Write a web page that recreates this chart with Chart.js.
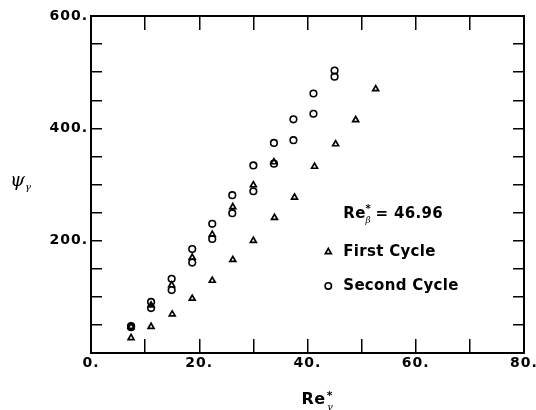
<!DOCTYPE html>
<html><head><meta charset="utf-8">
<script src="https://cdn.jsdelivr.net/npm/chart.js@4/dist/chart.umd.min.js"></script>
<style>html,body{margin:0;padding:0;background:#fff;}</style>
</head><body>
<canvas id="c" width="536" height="410"></canvas>
<script>
// ---- data ----
const firstCycleX = [7.4, 11.1, 15.0, 18.7, 22.4, 26.2, 30.0, 33.9, 37.6, 41.3, 45.2, 48.9, 52.6,
                     7.4, 11.1, 14.9, 18.7, 22.4, 26.2, 30.0, 33.8];
const firstCycleY = [27, 47, 69, 97, 129, 166, 200, 241, 277, 332, 372, 415, 470,
                     47, 85, 121, 170, 211, 260, 299, 340];
const secondCycleX = [7.4, 7.4, 11.1, 11.1, 14.9, 14.9, 18.7, 18.7, 22.4, 22.4, 26.1, 26.1,
                      30.0, 30.0, 33.8, 33.8, 37.4, 37.4, 41.1, 41.1, 45.0, 45.0];
const secondCycleY = [48, 46, 91, 80, 132, 112, 185, 161, 230, 203, 281, 249,
                      334, 288, 374, 337, 416, 379, 462, 426, 503, 492];
const xTickValues = [0, 20, 40, 60, 80];
const xTickLabels = ['0.', '20.', '40.', '60.', '80.'];
const yTickValues = [200, 400, 600];
const yTickLabels = ['200.', '400.', '600.'];
const seriesNames = ['First Cycle', 'Second Cycle'];
const reBetaValue = '46.96';

const toPts = (xs, ys) => xs.map((x, i) => ({x: x, y: ys[i]}));

const tickFont = {family: 'DejaVu Sans', weight: 'bold', size: 14};

function drawMarker(ctx, style, r, bw, x, y) {
  if (window.Chart && Chart.helpers && Chart.helpers.drawPoint) {
    ctx.lineWidth = bw;
    ctx.strokeStyle = '#000';
    ctx.fillStyle = 'rgba(0,0,0,0)';
    Chart.helpers.drawPoint(ctx, {pointStyle: style, radius: r, borderWidth: bw, rotation: 0}, x, y);
  }
}

const spacingPlugin = {
  id: 'spacing',
  beforeDraw(chart) { chart.ctx.letterSpacing = '1px'; }
};

const textPlugin = {
  id: 'texts',
  afterDraw(chart) {
    const ctx = chart.ctx, a = chart.chartArea;
    const w = a.right - a.left, h = a.bottom - a.top;
    ctx.save();
    ctx.letterSpacing = '0.5px';
    ctx.fillStyle = '#000';
    ctx.textBaseline = 'middle';
    ctx.textAlign = 'left';
    // x-axis title: Re*_gamma
    const cx = (a.left + a.right) / 2 - 6;
    const ty = a.bottom + 47;
    ctx.font = 'bold 16px "DejaVu Sans"';
    ctx.fillText('Re', cx, ty);
    let rw = ctx.measureText('Re').width;
    ctx.font = 'bold 11px "DejaVu Sans"';
    ctx.fillText('*', cx + rw + 1, ty - 4);
    ctx.font = 'italic 10px "DejaVu Serif"';
    ctx.fillText('\u03B3', cx + rw + 1, ty + 7);
    // y-axis title: psi_gamma
    ctx.letterSpacing = '0px';
    const py = a.top + 0.49 * h;
    ctx.font = 'italic 19px "DejaVu Serif"';
    ctx.fillText('\u03C8', 10, py);
    const pw = ctx.measureText('\u03C8').width;
    ctx.font = 'italic 10px "DejaVu Serif"';
    ctx.fillText('\u03B3', 10 + pw, py + 6);
    // annotation / legend
    ctx.letterSpacing = '0.3px';
    const mx = a.left + 0.548 * w;
    const txx = mx + 15;
    const y0 = a.top + 0.588 * h, y1 = a.top + 0.700 * h, y2 = a.top + 0.801 * h;
    ctx.font = 'bold 15px "DejaVu Sans"';
    ctx.fillText('Re', txx, y0);
    rw = ctx.measureText('Re').width;
    ctx.font = 'bold 10px "DejaVu Sans"';
    ctx.fillText('*', txx + rw, y0 - 5);
    ctx.font = 'italic 9px "DejaVu Serif"';
    ctx.fillText('\u03B2', txx + rw, y0 + 7);
    ctx.font = 'bold 15px "DejaVu Sans"';
    ctx.fillText('= ' + reBetaValue, txx + rw + 10, y0);
    ctx.fillText(seriesNames[0], txx, y1);
    ctx.fillText(seriesNames[1], txx, y2);
    drawMarker(ctx, 'triangle', 3.4, 1.7, mx, y1);
    drawMarker(ctx, 'circle', 3.2, 1.6, mx, y2);
    ctx.restore();
  }
};

const tickGrid = {drawOnChartArea: false, drawTicks: true, color: '#000', lineWidth: 1.5};
const noPad = s => { s.paddingLeft = 0; s.paddingRight = 0; s.paddingTop = 0; s.paddingBottom = 0; };

new Chart(document.getElementById('c'), {
  type: 'scatter',
  data: {
    datasets: [
      {label: seriesNames[0], data: toPts(firstCycleX, firstCycleY), pointStyle: 'triangle',
       pointRadius: 3.4, borderWidth: 1.7, borderColor: '#000', backgroundColor: 'rgba(0,0,0,0)', xAxisID: 'x', yAxisID: 'y'},
      {label: seriesNames[1], data: toPts(secondCycleX, secondCycleY), pointStyle: 'circle',
       pointRadius: 3.3, borderWidth: 1.6, borderColor: '#000', backgroundColor: 'rgba(0,0,0,0)', xAxisID: 'x', yAxisID: 'y'}
    ]
  },
  options: {
    responsive: false,
    animation: false,
    devicePixelRatio: 1,
    layout: {padding: {top: 16, right: 12, left: 0, bottom: 0}},
    plugins: {legend: {display: false}, tooltip: {enabled: false}},
    scales: {
      x: {type: 'linear', position: 'bottom', min: 0, max: 80,
          afterFit: s => { s.height = 57; noPad(s); },
          grid: Object.assign({}, tickGrid, {tickLength: -14}),
          border: {display: true, color: '#000', width: 2},
          ticks: {stepSize: 10, autoSkip: false, maxRotation: 0, padding: 16, color: '#000', font: tickFont,
                  callback: v => { const i = xTickValues.indexOf(v); return i >= 0 ? xTickLabels[i] : ''; }}},
      x2: {type: 'linear', axis: 'x', position: 'top', min: 0, max: 80,
          afterFit: s => { s.height = 0; noPad(s); },
          grid: Object.assign({}, tickGrid, {tickLength: -14}),
          border: {display: true, color: '#000', width: 2},
          ticks: {stepSize: 10, display: false}},
      y: {type: 'linear', position: 'left', min: 0, max: 600,
          afterFit: s => { s.width = 91; noPad(s); },
          grid: Object.assign({}, tickGrid, {tickLength: -11}),
          border: {display: true, color: '#000', width: 2},
          ticks: {stepSize: 50, autoSkip: false, padding: 14, color: '#000', font: tickFont,
                  callback: v => { const i = yTickValues.indexOf(v); return i >= 0 ? yTickLabels[i] : ''; }}},
      y2: {type: 'linear', axis: 'y', position: 'right', min: 0, max: 600,
          afterFit: s => { s.width = 0; noPad(s); },
          grid: Object.assign({}, tickGrid, {tickLength: -11}),
          border: {display: true, color: '#000', width: 2},
          ticks: {stepSize: 50, display: false}}
    }
  },
  plugins: [spacingPlugin, textPlugin]
});
</script>
</body></html>
